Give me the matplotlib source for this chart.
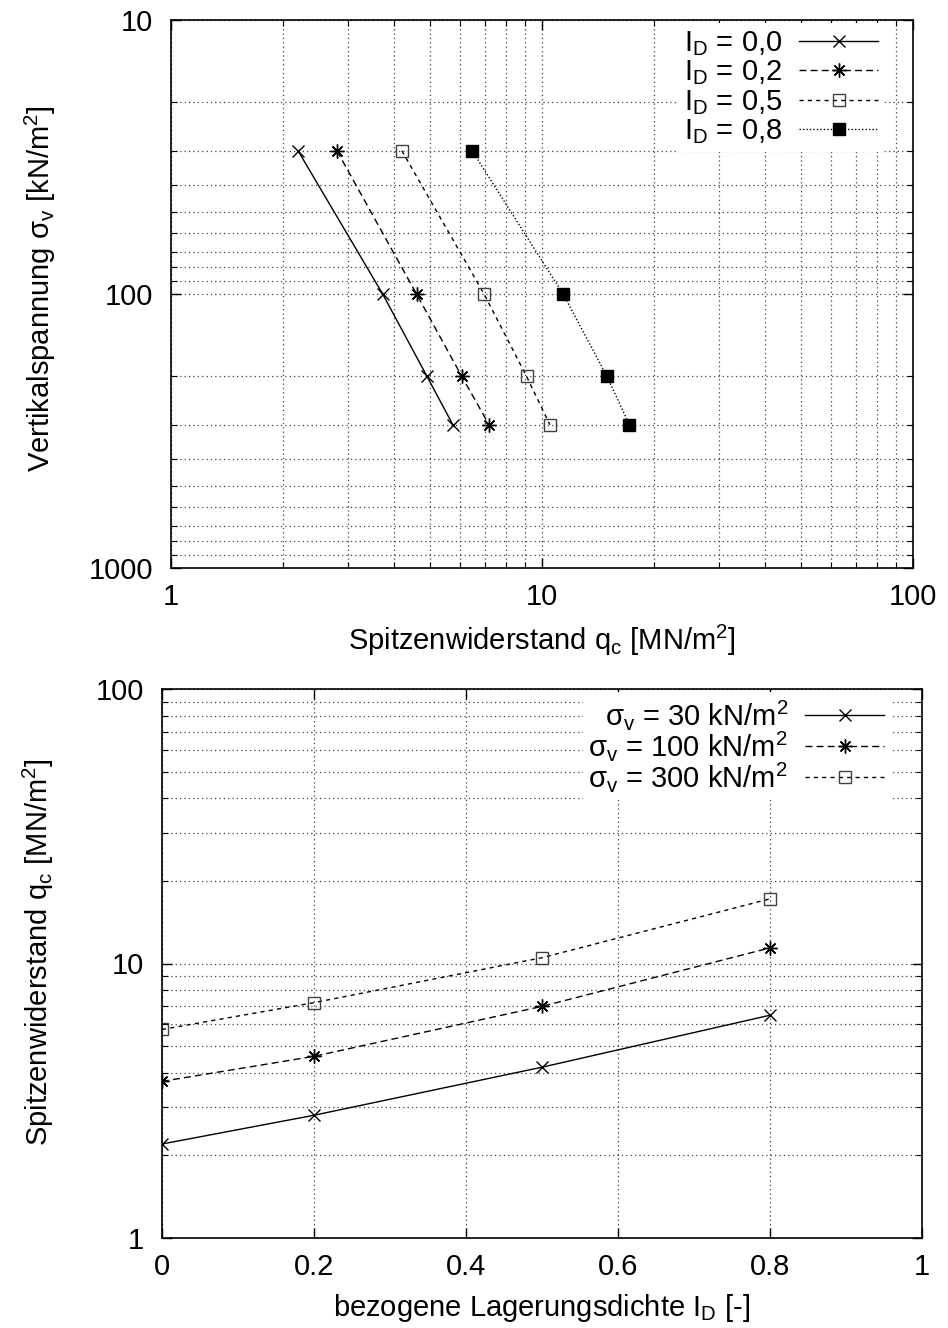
import matplotlib
matplotlib.use("Agg")
import matplotlib.pyplot as plt
from matplotlib.ticker import LogLocator, FixedLocator, NullFormatter, FixedFormatter

plt.rcParams['font.family'] = ['Liberation Sans', 'DejaVu Sans']
plt.rcParams['mathtext.fontset'] = 'custom'
plt.rcParams['mathtext.rm'] = 'Liberation Sans'
plt.rcParams['mathtext.it'] = 'Liberation Sans:italic'
plt.rcParams['mathtext.bf'] = 'Liberation Sans:bold'

# ---------------- data ----------------
sigma_v = [30, 100, 200, 300]            # kN/m^2
qc_ID00 = [2.20, 3.72, 4.90, 5.75]       # MN/m^2
qc_ID02 = [2.80, 4.59, 6.08, 7.20]
qc_ID05 = [4.19, 6.98, 9.09, 10.5]
qc_ID08 = [6.48, 11.4, 14.97, 17.2]

ID_values = [0.0, 0.2, 0.5, 0.8]
qc_s30 = [2.20, 2.80, 4.19, 6.48]
qc_s100 = [3.72, 4.59, 6.98, 11.4]
qc_s300 = [5.75, 7.20, 10.5, 17.2]

top_labels = [r'I$_\mathrm{D}$ = 0,0', r'I$_\mathrm{D}$ = 0,2',
              r'I$_\mathrm{D}$ = 0,5', r'I$_\mathrm{D}$ = 0,8']
bot_labels = [r'σ$_\mathrm{v}$ = 30 kN/m$^2$', r'σ$_\mathrm{v}$ = 100 kN/m$^2$',
              r'σ$_\mathrm{v}$ = 300 kN/m$^2$']

FS = 21
star = (8, 2, 0)
styles = [
    dict(ls='-', marker='x', ms=9, mew=1.0, color='black', mfc='none'),
    dict(ls=(0, (5, 3)), marker=star, ms=10, mew=1.0, color='black', mfc='none'),
    dict(ls=(0, (3, 3)), marker='s', ms=9, mew=1.0, color='black', mfc='none', mec='0.25'),
    dict(ls=(0, (1, 1.5)), marker='s', ms=9, mew=1.0, color='black', mfc='black'),
]

grid_kw = dict(color='0.25', linestyle=(0, (1, 2.5)), linewidth=0.9)

fig = plt.figure(figsize=(9.48, 13.28), dpi=100)

def style_axes(ax):
    for s in ax.spines.values():
        s.set_linewidth(1.2)
    ax.tick_params(which='both', direction='in', top=True, right=True, labelsize=FS)
    ax.tick_params(which='major', length=7, width=1.0)
    ax.tick_params(axis='x', which='major', pad=11)
    ax.tick_params(axis='y', which='major', pad=13)
    ax.tick_params(which='minor', length=4, width=0.8)

leg_kw = dict(loc='upper right', fontsize=FS, frameon=True, markerfirst=False,
              handlelength=2.7, handletextpad=0.6,
              borderpad=0.2, borderaxespad=0.0, fancybox=False,
              edgecolor='none', facecolor='white', framealpha=1.0)

# ---------------- top plot ----------------
ax1 = fig.add_axes([171/948, 1-568/1328, (913-171)/948, (568-20)/1328])
ax1.set_xscale('log')
ax1.set_yscale('log')
series_top = [qc_ID00, qc_ID02, qc_ID05, qc_ID08]
handles = []
for q, st, lab in zip(series_top, styles, top_labels):
    ln, = ax1.plot(q, sigma_v, lw=1.0, label=lab, **st)
    handles.append(ln)
ax1.set_xlim(1, 100)
ax1.set_ylim(1000, 10)
ax1.xaxis.set_major_locator(FixedLocator([1, 10, 100]))
ax1.xaxis.set_major_formatter(FixedFormatter(['1', '10', '100']))
ax1.xaxis.set_minor_locator(LogLocator(base=10, subs=range(2, 10)))
ax1.xaxis.set_minor_formatter(NullFormatter())
ax1.yaxis.set_major_locator(FixedLocator([10, 100, 1000]))
ax1.yaxis.set_major_formatter(FixedFormatter(['10', '100', '1000']))
ax1.yaxis.set_minor_locator(LogLocator(base=10, subs=range(2, 10)))
ax1.yaxis.set_minor_formatter(NullFormatter())
ax1.grid(True, which='both', **grid_kw)
ax1.set_axisbelow(True)
style_axes(ax1)
ax1.set_xlabel(r'Spitzenwiderstand q$_\mathrm{c}$ [MN/m$^2$]', fontsize=FS, labelpad=8)
ax1.set_ylabel(r'Vertikalspannung σ$_\mathrm{v}$ [kN/m$^2$]', fontsize=FS)
ax1.yaxis.set_label_coords(-0.152, 0.51)
ax1.legend(handles=handles, bbox_to_anchor=(0.961, 0.994), labelspacing=0.02, **leg_kw)

# ---------------- bottom plot ----------------
ax2 = fig.add_axes([162/948, 1-1238/1328, (922-162)/948, (1238-689)/1328])
ax2.set_yscale('log')
series_bot = [qc_s30, qc_s100, qc_s300]
handles2 = []
for q, st, lab in zip(series_bot, styles[:3], bot_labels):
    ln, = ax2.plot(ID_values, q, lw=1.0, label=lab, **st)
    handles2.append(ln)
ax2.set_xlim(0, 1)
ax2.set_ylim(1, 100)
ax2.xaxis.set_major_locator(FixedLocator([0, 0.2, 0.4, 0.6, 0.8, 1.0]))
ax2.xaxis.set_major_formatter(FixedFormatter(['0', '0.2', '0.4', '0.6', '0.8', '1']))
ax2.yaxis.set_major_locator(FixedLocator([1, 10, 100]))
ax2.yaxis.set_major_formatter(FixedFormatter(['1', '10', '100']))
ax2.yaxis.set_minor_locator(LogLocator(base=10, subs=range(2, 10)))
ax2.yaxis.set_minor_formatter(NullFormatter())
ax2.grid(True, which='major', axis='x', **grid_kw)
ax2.grid(True, which='both', axis='y', **grid_kw)
ax2.set_axisbelow(True)
style_axes(ax2)
ax2.set_xlabel(r'bezogene Lagerungsdichte I$_\mathrm{D}$ [-]', fontsize=FS, labelpad=8)
ax2.set_ylabel(r'Spitzenwiderstand q$_\mathrm{c}$ [MN/m$^2$]', fontsize=FS)
ax2.yaxis.set_label_coords(-0.139, 0.52)
ax2.legend(handles=handles2, bbox_to_anchor=(0.958, 0.994), labelspacing=-0.1, **leg_kw)

fig.savefig('out.png', dpi=100)
